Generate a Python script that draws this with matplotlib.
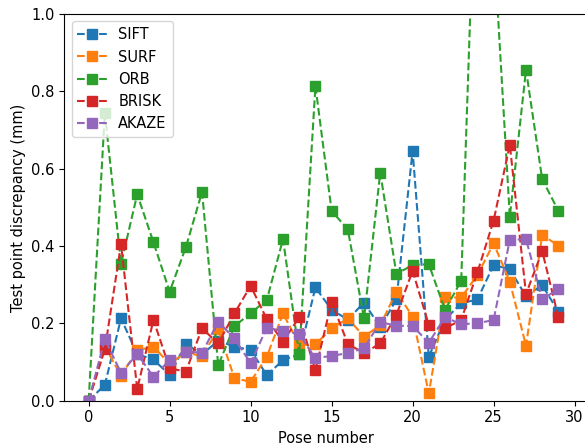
import numpy as np
import matplotlib
matplotlib.use("Agg")
from matplotlib import pyplot as plt

# pose index 0..29
poses = np.arange(30)

sift = [0.0, 0.041, 0.213, 0.12, 0.107, 0.066, 0.147, 0.12, 0.155, 0.14,
        0.131, 0.066, 0.105, 0.12, 0.293, 0.235, 0.21, 0.254, 0.19, 0.262,
        0.646, 0.114, 0.21, 0.252, 0.262, 0.351, 0.340, 0.27, 0.299, 0.23]
surf = [0.0, 0.14, 0.065, 0.13, 0.14, 0.095, 0.125, 0.115, 0.185, 0.058,
        0.049, 0.114, 0.226, 0.144, 0.146, 0.187, 0.213, 0.166, 0.195, 0.282,
        0.217, 0.019, 0.267, 0.267, 0.325, 0.407, 0.308, 0.142, 0.429, 0.401]
orb = [0.0, 0.744, 0.354, 0.534, 0.41, 0.282, 0.397, 0.54, 0.092, 0.193,
       0.226, 0.261, 0.418, 0.120, 0.814, 0.491, 0.443, 0.213, 0.59, 0.328,
       0.351, 0.353, 0.235, 0.31, 1.55, 1.19, 0.476, 0.856, 0.573, 0.491]
brisk = [0.0, 0.133, 0.405, 0.030, 0.209, 0.084, 0.075, 0.187, 0.148, 0.226,
         0.297, 0.211, 0.153, 0.216, 0.079, 0.256, 0.147, 0.123, 0.148, 0.222,
         0.336, 0.196, 0.187, 0.209, 0.332, 0.466, 0.662, 0.276, 0.387, 0.216]
akaze = [0.0, 0.159, 0.072, 0.121, 0.062, 0.105, 0.127, 0.124, 0.204, 0.161,
         0.097, 0.189, 0.180, 0.172, 0.110, 0.116, 0.123, 0.136, 0.203, 0.194,
         0.193, 0.150, 0.216, 0.198, 0.200, 0.209, 0.416, 0.418, 0.262, 0.289]

names = ["SIFT", "SURF", "ORB", "BRISK", "AKAZE"]
series = [sift, surf, orb, brisk, akaze]

plt.rcParams['font.size'] = 10.5

fig = plt.figure(figsize=(5.85, 4.47), dpi=100)
ax = fig.add_axes([0.110, 0.1036, 0.893, 0.8647])

for name, vals in zip(names, series):
    ax.plot(poses, vals, 's--', label=name, markersize=6.5)

ax.set_xlim(-1.5, 30.75)
ax.set_ylim(0, 1.0)
ax.set_xticks([0, 5, 10, 15, 20, 25, 30])
ax.set_xlabel('Pose number')
ax.set_ylabel('Test point discrepancy (mm)')
ax.legend(loc='upper left')

fig.savefig('out.png', dpi=100)
